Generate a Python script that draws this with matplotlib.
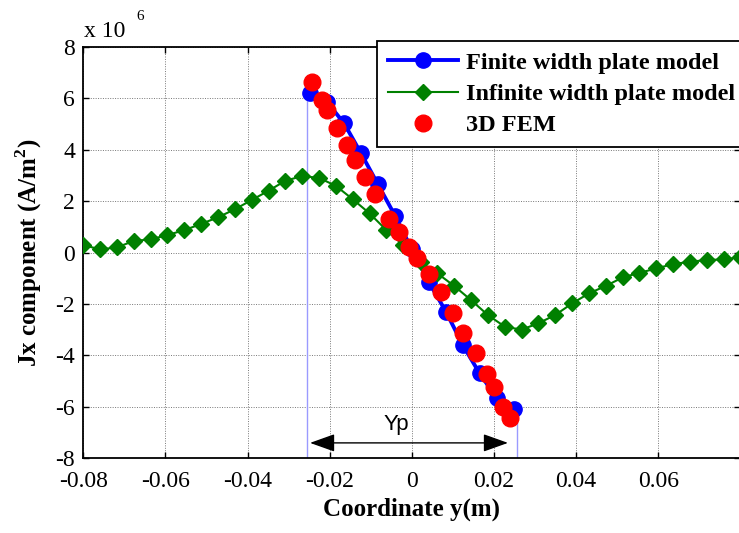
import matplotlib
matplotlib.use('Agg')
import matplotlib.pyplot as plt

plt.rcParams['font.family'] = 'Liberation Serif'
plt.rcParams['axes.unicode_minus'] = False
plt.rcParams['mathtext.fontset'] = 'custom'
plt.rcParams['mathtext.rm'] = 'Liberation Serif'
plt.rcParams['mathtext.bf'] = 'Liberation Serif:bold'

# finite width plate model (x1e6 A/m^2)
finite_x = [-0.0248, -0.0207, -0.0165, -0.0124, -0.0083, -0.0041, 0.0,
            0.0041, 0.0083, 0.0124, 0.0165, 0.0207, 0.0248]
finite_jx = [6.19, 5.86, 5.02, 3.86, 2.66, 1.43, 0.12,
             -1.14, -2.30, -3.60, -4.70, -5.67, -6.10]

# infinite width plate model
infinite_x = [-0.0800, -0.0759, -0.0718, -0.0677, -0.0636, -0.0595, -0.0554, -0.0513,
              -0.0472, -0.0431, -0.0390, -0.0349, -0.0308, -0.0267, -0.0226, -0.0185,
              -0.0144, -0.0103, -0.0062, -0.0021, 0.0021, 0.0062, 0.0103, 0.0144,
              0.0185, 0.0226, 0.0267, 0.0308, 0.0349, 0.0390, 0.0431, 0.0472,
              0.0513, 0.0554, 0.0595, 0.0636, 0.0677, 0.0718, 0.0759, 0.0800]
infinite_jx = [0.29, 0.12, 0.20, 0.45, 0.51, 0.68, 0.87, 1.11,
               1.37, 1.68, 2.04, 2.40, 2.79, 2.97, 2.90, 2.59,
               2.07, 1.52, 0.87, 0.29, -0.38, -0.81, -1.30, -1.85,
               -2.43, -2.88, -3.00, -2.75, -2.43, -1.98, -1.59, -1.30,
               -0.97, -0.79, -0.62, -0.45, -0.36, -0.29, -0.27, -0.18]

# 3D FEM
fem_x = [-0.0242, -0.0220, -0.0206, -0.0183, -0.0159, -0.0139, -0.0114, -0.0090,
         -0.0055, -0.0031, -0.0006, 0.0013, 0.0042, 0.0070, 0.0101, 0.0125,
         0.0155, 0.0182, 0.0200, 0.0223, 0.0239]
fem_jx = [6.64, 5.93, 5.54, 4.85, 4.18, 3.60, 2.92, 2.27,
          1.29, 0.79, 0.23, -0.23, -0.84, -1.52, -2.34, -3.12,
          -3.90, -4.72, -5.24, -5.99, -6.45]

plate_edges = [-0.0255, 0.0255]
yp_span = [-0.0248, 0.0234]

xticks = [-0.08, -0.06, -0.04, -0.02, 0, 0.02, 0.04, 0.06]
xtick_labels = ['-0.08', '-0.06', '-0.04', '-0.02', '0', '0.02', '0.04', '0.06']
yticks = [-8, -6, -4, -2, 0, 2, 4, 6, 8]

fig = plt.figure(figsize=(7.39, 5.33), dpi=100)
ax = fig.add_axes([0.1127, 0.1401, 0.8893, 0.7723])

# plate edge markers
ax.plot([plate_edges[0]] * 2, [-8, finite_jx[0]], color='#9a9aff', lw=1, zorder=1)
ax.plot([plate_edges[1]] * 2, [-8, finite_jx[-1]], color='#9a9aff', lw=1, zorder=1)

ax.plot(finite_x, finite_jx, '-o', color='blue', lw=2.8, markersize=11,
        label='Finite width plate model', zorder=3)
ax.plot(infinite_x, infinite_jx, '-D', color='green', lw=1.5, markersize=8,
        label='Infinite width plate model', zorder=3)
ax.plot(fem_x, fem_jx, 'o', color='red', markersize=12, lw=0,
        label='3D FEM', zorder=4)

ax.annotate('', xy=(yp_span[0], -7.4), xytext=(yp_span[1], -7.4),
            arrowprops=dict(arrowstyle='<|-|>,head_length=0.7,head_width=0.25',
                            color='black', lw=1,
                            mutation_scale=22, shrinkA=0, shrinkB=0))
ax.text(-0.0037, -6.9, 'Yp', family='Liberation Sans', fontsize=16,
        ha='center', va='baseline')

ax.set_xlim(-0.08, 0.08)
ax.set_ylim(-8, 8)
ax.set_xticks(xticks)
ax.set_xticklabels(xtick_labels)
ax.set_yticks(yticks)
ax.tick_params(direction='in', length=4, width=1, labelsize=17,
               top=True, right=True)
ax.tick_params(axis='y', pad=6)
ax.tick_params(axis='x', pad=9)
ax.grid(True, color='#777777', linestyle=(0, (1, 1.5)), lw=0.7)
ax.set_axisbelow(True)
for s in ax.spines.values():
    s.set_linewidth(1.3)

ax.set_xlabel('Coordinate y(m)', fontsize=18, fontweight='bold', labelpad=4)
ax.set_ylabel(r'Jx component (A/m$^\mathbf{2}$)', fontsize=18,
              fontweight='bold', labelpad=8)

fig.text(84 / 739, 1 - 37 / 533, 'x 10', fontsize=17, ha='left', va='baseline')
fig.text(136 / 739, 1 - 20 / 533, '6', fontsize=11, ha='left', va='baseline')

leg = ax.legend(loc='upper left', bbox_to_anchor=(377 / 739, 1 - 41 / 533),
                bbox_transform=fig.transFigure, fancybox=False,
                edgecolor='black', framealpha=1, borderpad=0.45,
                labelspacing=0.38, handlelength=2.9, handletextpad=0.3,
                borderaxespad=0, prop={'weight': 'bold', 'size': 17.5})
leg.get_frame().set_linewidth(1.3)

fig.savefig('out.png', dpi=100)
